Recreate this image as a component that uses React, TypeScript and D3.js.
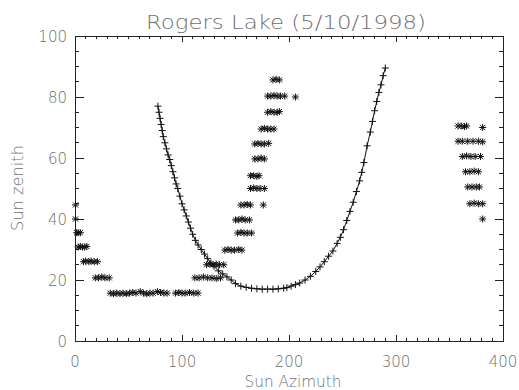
import React from "react";
import * as d3 from "d3";

const titleText = "Rogers Lake (5/10/1998)";
const xLabel = "Sun Azimuth";
const yLabel = "Sun zenith";
const xTickValues = [0, 100, 200, 300, 400];
const yTickValues = [0, 20, 40, 60, 80, 100];

// "+" series connected by a line (sun track)
const sunAz = [77.5, 78.5, 79.5, 80.5, 81.5, 82.5, 84, 85.5, 87, 88.5, 90, 91.5, 93, 94.5, 96, 98, 100, 102, 104, 106, 108, 110, 112.5, 115, 118, 121, 124, 127, 130, 134, 138, 142, 146, 150, 155, 160, 165, 170, 175, 180, 185, 190, 195, 198, 202, 206, 210, 215, 220, 225, 229, 233, 237, 241, 245, 248, 251, 254, 257, 260, 263, 266, 268, 270, 273, 276, 278, 280, 282, 284, 286, 288, 290];
const sunZen = [77, 75, 73, 71, 69, 67, 65, 63, 61, 59.5, 57.5, 55.5, 53.5, 51.5, 50, 47.5, 45, 43, 41, 39, 37, 35, 33, 31.5, 30, 28.5, 27, 25.5, 24.5, 23, 22, 21, 20, 18.8, 18, 17.6, 17.3, 17.1, 17, 17, 17, 17.1, 17.3, 17.5, 18, 18.5, 19, 20, 21.2, 22.8, 24.3, 26, 27.8, 29.5, 32, 34, 36.5, 39.5, 42.5, 45.5, 49, 52.5, 55.3, 58.5, 64, 68.5, 72, 75.5, 78.5, 81.5, 84, 87, 89.5];

// "*" series (observations)
const obsAz = [
  0.5, 0.5,
  1.5, 3, 5,
  3, 5, 7, 9, 11,
  8, 10, 13, 15, 18, 21,
  19, 22, 25, 28, 32,
  33, 36, 39, 42, 45, 48, 51, 54, 57, 61, 64, 67, 70, 73, 77, 80, 83, 86, 94, 97, 100, 103, 107, 111, 115,
  112, 116, 120, 124, 128, 132, 136,
  123, 126, 129, 132, 135, 139,
  140, 143, 146, 149, 153, 156,
  152, 155, 158, 161, 165,
  150, 153, 156, 159, 163,
  155, 158, 161, 164, 176,
  164, 167, 170, 173, 177,
  164, 167, 170, 172,
  168, 171, 174, 177,
  168, 171, 174, 177, 181,
  174, 177, 180, 183, 186,
  180, 183, 186, 189, 191,
  180, 183, 186, 189, 192, 196, 206,
  185, 188, 191,
  358, 361, 364, 366, 381,
  358, 362, 367, 372, 377, 381,
  362, 366, 370, 374, 379,
  365, 369, 373, 377,
  367, 371, 375, 378,
  369, 373, 377, 381,
  381
];
const obsZen = [
  44.6, 40,
  35.5, 35.5, 35.5,
  30.8, 31, 30.8, 30.8, 31,
  26, 26.2, 26, 26.2, 26, 26,
  20.7, 20.7, 21, 20.7, 20.7,
  15.7, 15.5, 15.7, 15.5, 15.7, 15.5, 15.7, 15.9, 15.7, 16.2, 15.7, 15.5, 15.7, 15.7, 16.2, 15.9, 15.7, 15.7, 15.7, 15.9, 15.7, 15.7, 15.9, 15.7, 15.7,
  20.7, 20.7, 21, 20.7, 20.7, 20.5, 20.7,
  25, 25.3, 25, 25.2, 25, 25,
  29.8, 30, 29.8, 29.8, 30, 29.8,
  35.4, 35.6, 35.4, 35.4, 35.4,
  39.7, 39.7, 40, 39.7, 39.7,
  44.6, 44.6, 44.8, 44.6, 44.6,
  50, 50.2, 50, 50, 50,
  54.2, 54.2, 54, 54.2,
  59.7, 59.7, 60, 59.7,
  64.6, 64.8, 64.6, 64.6, 64.8,
  69.5, 69.7, 69.5, 69.5, 69.5,
  75, 75.2, 75, 75, 75.2,
  80.3, 80.3, 80.5, 80.3, 80.3, 80.3, 80,
  85.6, 85.8, 85.6,
  70.5, 70.5, 70.3, 70.5, 70,
  65.5, 65.5, 65.5, 65.5, 65.5, 65.3,
  60.5, 60.7, 60.5, 60.5, 60.5,
  55.5, 55.5, 55.7, 55.5,
  50.5, 50.5, 50.5, 50.5,
  45, 45.2, 45, 45,
  40
];

const W = 519;
const H = 390;
const L = 75, R = 503, T = 36, B = 341;
const FONT = "'DejaVu Sans', sans-serif";
const TXT = "#6f6f6f";

export default function App() {
  const x = d3.scaleLinear().domain([0, 400]).range([L, R]);
  const y = d3.scaleLinear().domain([0, 100]).range([B, T]);
  const xMinor = d3.range(0, 401, 10).filter((v) => v % 100 !== 0);
  const yMinor = d3.range(0, 101, 5).filter((v) => v % 20 !== 0);
  const line = d3
    .line<number>()
    .x((_, i) => x(sunAz[i]))
    .y((_, i) => y(sunZen[i]));
  const plus = "M-3.5,0h7M0,-3.5v7";
  const star = "M-3.5,0h7M0,-3.5v7M-2.6,-2.6l5.2,5.2M-2.6,2.6l5.2,-5.2";
  const majX = 6, minX = 3, majY = 8.5, minY = 4.2;

  return (
    <svg
      width={W}
      height={H}
      style={{ position: "absolute", left: 0, top: 0, background: "#fff" }}
    >
      <rect x={0} y={0} width={W} height={H} fill="#fff" />
      <text x={286} y={29} textAnchor="middle" fontFamily={FONT} fontWeight={200} fontSize={19} fill={TXT} textLength={280} lengthAdjust="spacingAndGlyphs">
        {titleText}
      </text>
      <g stroke="#222" strokeWidth={1} fill="none" shapeRendering="crispEdges">
        <rect x={L} y={T} width={R - L} height={B - T} />
        {xTickValues.map((v) => (
          <g key={"xt" + v}>
            <line x1={x(v)} x2={x(v)} y1={B} y2={B - majX} />
            <line x1={x(v)} x2={x(v)} y1={T} y2={T + majX} />
          </g>
        ))}
        {xMinor.map((v) => (
          <g key={"xm" + v}>
            <line x1={x(v)} x2={x(v)} y1={B} y2={B - minX} />
            <line x1={x(v)} x2={x(v)} y1={T} y2={T + minX} />
          </g>
        ))}
        {yTickValues.map((v) => (
          <g key={"yt" + v}>
            <line x1={L} x2={L + majY} y1={y(v)} y2={y(v)} />
            <line x1={R} x2={R - majY} y1={y(v)} y2={y(v)} />
          </g>
        ))}
        {yMinor.map((v) => (
          <g key={"ym" + v}>
            <line x1={L} x2={L + minY} y1={y(v)} y2={y(v)} />
            <line x1={R} x2={R - minY} y1={y(v)} y2={y(v)} />
          </g>
        ))}
      </g>
      <g fontFamily={FONT} fontWeight={200} fontSize={15} fill={TXT}>
        {xTickValues.map((v) => (
          <text key={"xl" + v} x={x(v)} y={367} textAnchor="middle">
            {String(v)}
          </text>
        ))}
        {yTickValues.map((v) => (
          <text key={"yl" + v} x={L - 8} y={y(v) + 5.5} textAnchor="end">
            {String(v)}
          </text>
        ))}
        <text x={293} y={387} textAnchor="middle" textLength={97} lengthAdjust="spacingAndGlyphs">
          {xLabel}
        </text>
        <text transform={`translate(23,188) rotate(-90)`} textAnchor="middle" textLength={86} lengthAdjust="spacingAndGlyphs">
          {yLabel}
        </text>
      </g>
      <path d={line(sunAz) || ""} fill="none" stroke="#111" strokeWidth={1} />
      <g stroke="#111" strokeWidth={1} fill="none">
        {sunAz.map((a, i) => (
          <path key={"p" + i} d={plus} transform={`translate(${x(a)},${y(sunZen[i])})`} />
        ))}
        {obsAz.map((a, i) => (
          <path key={"s" + i} d={star} transform={`translate(${x(a)},${y(obsZen[i])})`} />
        ))}
      </g>
    </svg>
  );
}
